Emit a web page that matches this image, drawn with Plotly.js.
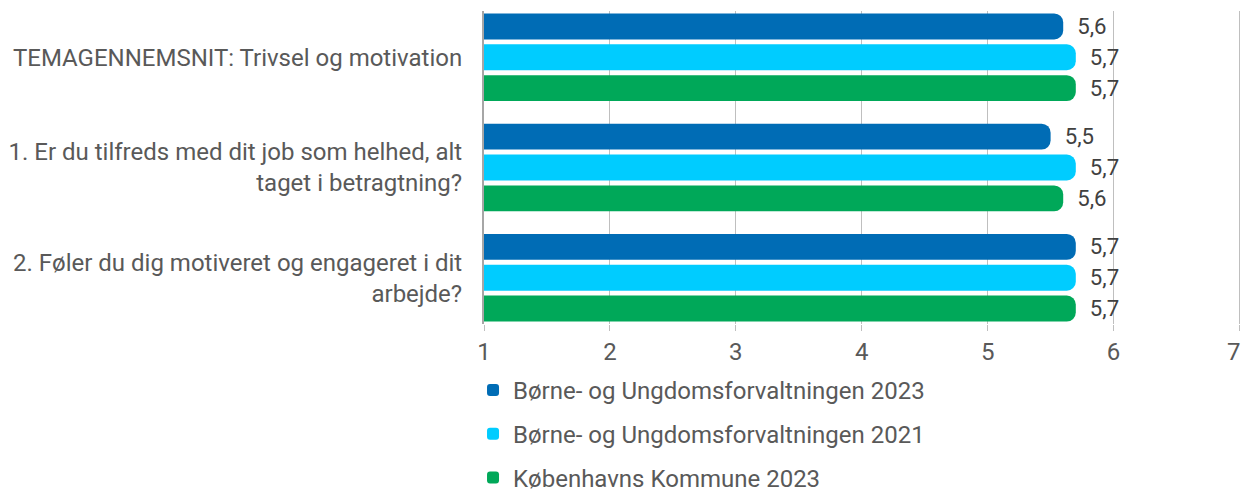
<!DOCTYPE html>
<html>
<head>
<meta charset="utf-8">
<script src="https://cdn.plot.ly/plotly-3.0.1.min.js"></script>
<style>html,body{margin:0;padding:0;background:#fff;}#chart{width:1243px;height:495px;}</style>
</head>
<body>
<div id="chart"></div>
<script>
const categories = [
  "TEMAGENNEMSNIT: Trivsel og motivation",
  "1. Er du tilfreds med dit job som helhed, alt<br>taget i betragtning?",
  "2. Føler du dig motiveret og engageret i dit<br>arbejde?"
];
const seriesNames = [
  "Børne- og Ungdomsforvaltningen 2023",
  "Børne- og Ungdomsforvaltningen 2021",
  "Københavns Kommune 2023"
];
const buf2023 = [5.6, 5.5, 5.7];
const buf2021 = [5.7, 5.7, 5.7];
const kk2023 = [5.7, 5.6, 5.7];
const seriesColors = ["#006CB5", "#00CCFF", "#00A859"];
const xTicks = [1, 2, 3, 4, 5, 6, 7];
const xTickText = ["1", "2", "3", "4", "5", "6", "7"];

const values = [buf2023, buf2021, kk2023];
const traces = values.map((v, i) => ({
  type: "bar",
  orientation: "h",
  y: categories,
  x: v,
  name: seriesNames[i],
  legendgroup: "g" + i,
  marker: {color: seriesColors[i], cornerradius: 9},
  text: v.map(d => "\u00a0\u00a0" + d.toFixed(1).replace(".", ",")),
  textposition: "outside",
  cliponaxis: false,
  textfont: {family: "Roboto", size: 24, color: "#404040"},
  hoverinfo: "x+y"
}));

// the last tick label sits against the right edge, so it is drawn as an
// annotation anchored at its tick value, right-aligned to stay inside the page
const lastTick = xTicks[xTicks.length - 1];
const shownTickText = xTickText.map((t, i) => i === xTickText.length - 1 ? "" : t);

const layout = {
  width: 1243,
  height: 495,
  margin: {l: 484, r: 2, t: 11, b: 171, autoexpand: false},
  paper_bgcolor: "#ffffff",
  plot_bgcolor: "#ffffff",
  font: {family: "Roboto", size: 24, color: "#595959"},
  barmode: "group",
  bargap: 0.16,
  bargroupgap: 0.16,
  showlegend: true,
  legend: {
    x: -0.0145, xanchor: "left",
    y: 0.2566, yanchor: "top", yref: "container",
    orientation: "v",
    font: {family: "Roboto", size: 24, color: "#595959"},
    tracegroupgap: 9.5,
    itemwidth: 30,
    traceorder: "grouped"
  },
  xaxis: {
    range: [1, 7.012],
    tickvals: xTicks,
    ticktext: shownTickText,
    showgrid: true,
    gridcolor: "#BFBFBF",
    gridwidth: 1,
    zeroline: false,
    showline: false,
    ticks: "outside",
    ticklen: 6,
    tickcolor: "#BFBFBF",
    tickfont: {family: "Roboto", size: 24, color: "#595959"}
  },
  yaxis: {
    range: [2.42, -0.42],
    showgrid: false,
    zeroline: false,
    showline: true,
    linecolor: "#A6A6A6",
    linewidth: 2,
    ticks: "outside",
    ticklen: 15,
    tickcolor: "rgba(255,255,255,0)",
    tickfont: {family: "Roboto", size: 24, color: "#595959"}
  },
  annotations: [{
    x: lastTick, xref: "x",
    y: 0, yref: "paper",
    text: xTickText[xTickText.length - 1],
    showarrow: false,
    xanchor: "right", yanchor: "middle",
    xshift: 4, yshift: -27.5,
    font: {family: "Roboto", size: 24, color: "#595959"}
  }]
};

Plotly.newPlot("chart", traces, layout, {displayModeBar: false, staticPlot: true});
</script>
</body>
</html>
